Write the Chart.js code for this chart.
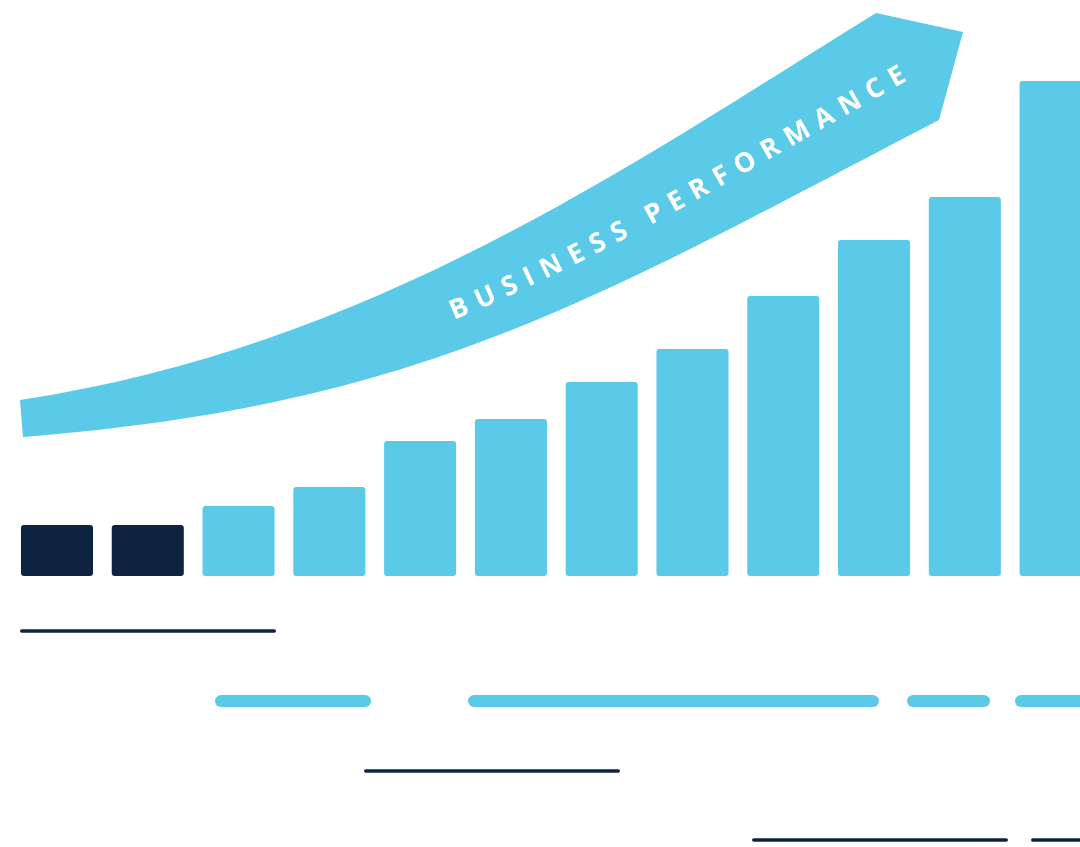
<!DOCTYPE html>
<html><head><meta charset="utf-8">
<script src="https://cdn.jsdelivr.net/npm/chart.js@4"></script>
<style>
html,body{margin:0;padding:0;background:#fff;overflow:hidden}
#wrap{width:1080px;height:847px;overflow:hidden;position:relative}
canvas{display:block}
</style>
</head><body><div id="wrap"><canvas id="c" width="1101" height="847"></canvas></div>
<script>
// ---- data ----
const categories = ['P1','P2','P3','P4','P5','P6','P7','P8','P9','P10','P11','P12'];
const performance = [51, 51, 70, 89, 135, 157, 194, 227, 280, 336, 379, 495];
const barGroups = ['base','base','growth','growth','growth','growth','growth','growth','growth','growth','growth','growth'];
const bannerText = 'BUSINESS PERFORMANCE';

const BLUE = '#5BC9E8';
const NAVY = '#0E2340';
const groupColor = {base: NAVY, growth: BLUE};

function bez(p0,p1,p2,p3,t){
  const u=1-t;
  return [
    u*u*u*p0[0]+3*u*u*t*p1[0]+3*u*t*t*p2[0]+t*t*t*p3[0],
    u*u*u*p0[1]+3*u*u*t*p1[1]+3*u*t*t*p2[1]+t*t*t*p3[1]
  ];
}

const decor = {
  id: 'decor',
  beforeDatasetsDraw(chart){
    const ctx = chart.ctx;
    ctx.save();
    // ribbon arrow
    const top = [[20,400],[370,347],[626,168],[876,13]];
    const bot = [[23,437],[423,405],[589,302],[939,120]];
    ctx.beginPath();
    ctx.moveTo(top[0][0],top[0][1]);
    ctx.bezierCurveTo(top[1][0],top[1][1],top[2][0],top[2][1],top[3][0],top[3][1]);
    ctx.lineTo(963,32);
    ctx.lineTo(939,120);
    ctx.bezierCurveTo(bot[2][0],bot[2][1],bot[1][0],bot[1][1],bot[0][0],bot[0][1]);
    ctx.closePath();
    ctx.fillStyle = BLUE;
    ctx.fill();

    // text along centerline
    const mid = top.map((p,i)=>[(p[0]+bot[i][0])/2,(p[1]+bot[i][1])/2 + 3]);
    const N = 2000;
    const pts = [], len = [0];
    for(let i=0;i<=N;i++){
      const p = bez(mid[0],mid[1],mid[2],mid[3],i/N);
      pts.push(p);
      if(i>0){const q=pts[i-1]; len.push(len[i-1]+Math.hypot(p[0]-q[0],p[1]-q[1]));}
    }
    function sAtX(x){ for(let i=0;i<=N;i++){ if(pts[i][0]>=x) return len[i]; } return len[N]; }
    function atS(s){
      let i=1; while(i<N && len[i]<s) i++;
      const a=pts[i-1], b=pts[i];
      const f=(s-len[i-1])/Math.max(1e-9,(len[i]-len[i-1]));
      return {x:a[0]+(b[0]-a[0])*f, y:a[1]+(b[1]-a[1])*f, ang:Math.atan2(b[1]-a[1],b[0]-a[0])};
    }
    const fs = 27;
    ctx.font = '700 '+fs+'px "Open Sans"';
    ctx.fillStyle = '#ffffff';
    ctx.textAlign = 'center';
    ctx.textBaseline = 'alphabetic';
    const chars = bannerText.split('');
    const widths = chars.map(c=> c===' ' ? fs*0.2 : ctx.measureText(c).width);
    const total = widths.reduce((a,b)=>a+b,0);
    const s0 = sAtX(450), s1 = sAtX(903);
    const gap = (s1-s0-total)/(chars.length-1);
    let s = s0;
    chars.forEach((c,i)=>{
      const p = atS(s + widths[i]/2);
      ctx.save();
      ctx.translate(p.x,p.y);
      ctx.rotate(p.ang);
      ctx.fillText(c,0,fs*0.357);
      ctx.restore();
      s += widths[i] + gap;
    });

    // decorative rules
    ctx.lineCap = 'round';
    const thin = [[20,276,631],[364,620,771],[752,1008,840],[1031,1110,840]];
    ctx.strokeStyle = NAVY; ctx.lineWidth = 3.5;
    thin.forEach(([a,b,y])=>{ctx.beginPath();ctx.moveTo(a+1.75,y);ctx.lineTo(b-1.75,y);ctx.stroke();});
    const thick = [[215,371,701],[468,879,701],[907,990,701],[1015,1110,701]];
    ctx.strokeStyle = BLUE; ctx.lineWidth = 12;
    thick.forEach(([a,b,y])=>{ctx.beginPath();ctx.moveTo(a+6,y);ctx.lineTo(b-6,y);ctx.stroke();});
    ctx.restore();
  }
};

new Chart(document.getElementById('c'), {
  type: 'bar',
  data: {
    labels: categories,
    datasets: [{
      data: performance,
      backgroundColor: barGroups.map(g=>groupColor[g]),
      borderWidth: 0,
      borderRadius: 3,
      borderSkipped: false,
      categoryPercentage: 1,
      barPercentage: 0.7936
    }]
  },
  options: {
    responsive: false,
    animation: false,
    devicePixelRatio: 1,
    layout: {padding: {left: 11.6, right: 0, top: 0, bottom: 271}},
    plugins: {legend: {display: false}, tooltip: {enabled: false}},
    scales: {
      x: {display: false, offset: true},
      y: {display: false, min: 0, max: 576}
    }
  },
  plugins: [decor]
});
</script>
</body></html>
